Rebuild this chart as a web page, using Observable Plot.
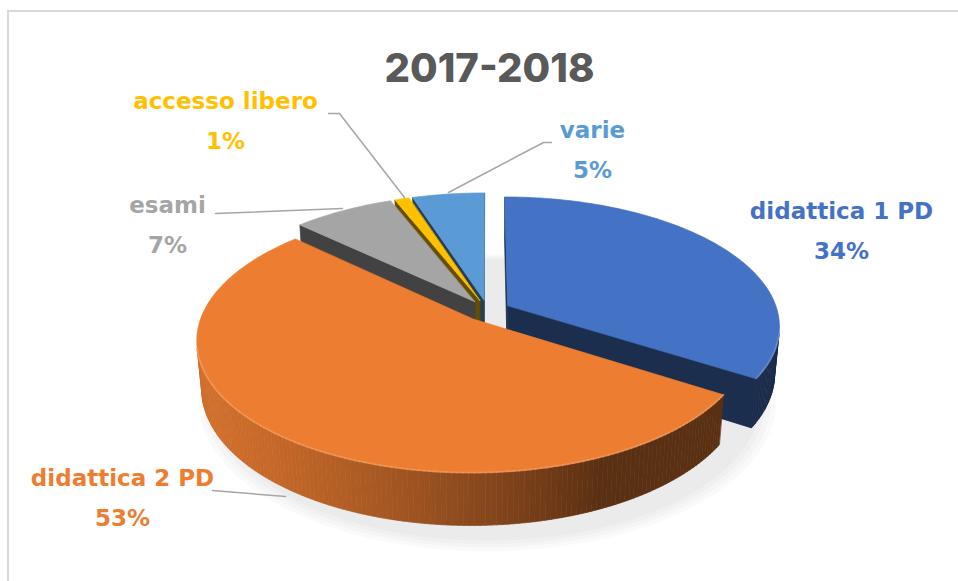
<!DOCTYPE html>
<html><head><meta charset="utf-8">
<script src="https://cdn.jsdelivr.net/npm/d3@7"></script>
<script src="https://cdn.jsdelivr.net/npm/@observablehq/plot@0.6"></script>
<style>
body{margin:0;background:#fff;overflow:hidden}
#wrap{position:relative;width:958px;height:581px;overflow:hidden}
#frame{position:absolute;left:7px;top:10px;width:990px;height:620px;border:2px solid #d9d9d9;box-sizing:border-box;pointer-events:none}
</style></head><body>
<div id="wrap"><div id="chart"></div><div id="frame"></div></div>
<script>
// ---- data ----
const title = "2017-2018";
const categories = ["didattica 1 PD", "didattica 2 PD", "esami", "accesso libero", "varie"];
const values = [34, 53, 7, 1, 5];
const percentLabels = ["34%", "53%", "7%", "1%", "5%"];

// ---- styles / layout ----
const topColors = ["#4472C4", "#ED7D31", "#A5A5A5", "#FFC000", "#5B9BD5"];
const explode = [0.085, 0.085, 0.085, 0.085, 0.085];
const cam = {cx: 487, cy: 310, F: 1533, D: 5.68, phi: 28 * Math.PI / 180, h: 0.2};
const labelPos = [[841, 218], [122, 485], [167, 212], [225, 108], [592, 137]];
const pctGap = 40;
const leaders = [
  [[328, 113], [339, 113], [404, 197]],
  [[215, 213], [342, 208]],
  [[448, 192], [543, 142], [551, 142]],
  [[212, 490], [285, 496]]
];
const labelFont = "'DejaVu Sans', sans-serif";
const titleFont = "Inter, sans-serif";

// ---- 3D projection ----
const cphi = Math.cos(cam.phi), sphi = Math.sin(cam.phi);
const camPos = [0, -cam.D * cphi, cam.D * sphi];
function proj([x, y, z]) {
  const Y = y * sphi + z * cphi;
  const Zc = cam.D + y * cphi - z * sphi;
  return [cam.cx + cam.F * x / Zc, cam.cy - cam.F * Y / Zc, Zc];
}
function visible(n, p) {
  return n[0] * (camPos[0] - p[0]) + n[1] * (camPos[1] - p[1]) + n[2] * (camPos[2] - p[2]) > 0;
}
function shade(hex, f) {
  const c = d3.rgb(hex);
  return d3.rgb(c.r * f, c.g * f, c.b * f).formatHex();
}
function lighten(hex, f) {
  return d3.interpolateRgb(hex, "#ffffff")(f);
}
const Ln = Math.hypot(1, 0.45);
const L = [-1 / Ln, -0.45 / Ln];

const total = d3.sum(values);
const sides = [], tops = [], rims = [];
let acc = 0;
const step = Math.PI / 180;
values.forEach((v, i) => {
  const a0 = acc / total * 2 * Math.PI;
  acc += v;
  const a1 = acc / total * 2 * Math.PI;
  const mid = (a0 + a1) / 2;
  const o = [explode[i] * Math.sin(mid), explode[i] * Math.cos(mid)];
  const arc = (t, z) => [o[0] + Math.sin(t), o[1] + Math.cos(t), z];
  const n = Math.max(2, Math.ceil((a1 - a0) / step));
  const ts = d3.range(n + 1).map(k => a0 + (a1 - a0) * k / n);
  const h = cam.h;
  tops.push({pts: [[o[0], o[1], 0], ...ts.map(t => arc(t, 0))], color: topColors[i]});
  for (let k = 0; k < n; k++) {
    const t0 = ts[k], t1 = ts[k + 1], tm = (t0 + t1) / 2;
    const nrm = [Math.sin(tm), Math.cos(tm), 0];
    const pm = arc(tm, -h / 2);
    if (!visible(nrm, pm)) continue;
    const lam = Math.max(0, nrm[0] * L[0] + nrm[1] * L[1]);
    sides.push({pts: [arc(t0, 0), arc(t1, 0), arc(t1, -h), arc(t0, -h)], color: shade(topColors[i], 0.38 + 0.5 * lam), depth: proj(pm)[2]});
    rims.push({pts: [arc(t0, 0), arc(t1, 0)], color: lighten(topColors[i], 0.25), seg: i * 1000 + k});
  }
  const radial = (t, nrm) => {
    const pm = [o[0] + Math.sin(t) / 2, o[1] + Math.cos(t) / 2, -h / 2];
    if (!visible(nrm, pm)) return;
    sides.push({pts: [[o[0], o[1], 0], arc(t, 0), arc(t, -h), [o[0], o[1], -h]], color: shade(topColors[i], 0.4), depth: proj(pm)[2]});
  };
  radial(a0, [-Math.cos(a0), Math.sin(a0), 0]);
  radial(a1, [Math.cos(a1), -Math.sin(a1), 0]);
});
sides.sort((a, b) => b.depth - a.depth);
const faces = [...sides, ...tops];
const polyRows = faces.flatMap((f, k) => f.pts.map(p => {
  const [x, y] = proj(p);
  return {id: k, x, y, color: f.color};
}));
const rimRows = rims.flatMap(r => r.pts.map(p => {
  const [x, y] = proj(p);
  return {id: r.seg, x, y, color: r.color};
}));
// faint soft shadow below the front of the pie
const shadowRows = d3.range(4).flatMap(k => d3.range(0, 360, 3).map(deg => {
  const t = deg * Math.PI / 180, r = 1.0 + 0.018 * k;
  const [x, y] = proj([r * Math.sin(t), -0.12 + r * Math.cos(t), -cam.h - 0.02]);
  return {id: k, x, y};
}));

const nameRows = categories.map((c, i) => ({text: c, x: labelPos[i][0], y: labelPos[i][1], color: topColors[i]}));
const pctRows = percentLabels.map((c, i) => ({text: c, x: labelPos[i][0], y: labelPos[i][1] + pctGap, color: topColors[i]}));
const leaderRows = leaders.flatMap((l, k) => l.map(([x, y]) => ({id: k, x, y})));

const chart = Plot.plot({
  width: 958, height: 581,
  marginTop: 0, marginRight: 0, marginBottom: 0, marginLeft: 0,
  x: {domain: [0, 958], range: [0, 958], axis: null},
  y: {domain: [0, 581], range: [0, 581], axis: null},
  color: {type: "identity"},
  style: {background: "transparent"},
  marks: [
    Plot.line(shadowRows, {x: "x", y: "y", z: "id", fill: "#000", fillOpacity: 0.018, stroke: "none", curve: "linear-closed"}),
    Plot.line(polyRows, {x: "x", y: "y", z: "id", fill: "color", stroke: "color", strokeWidth: 0.7, curve: "linear-closed"}),
    Plot.line(rimRows, {x: "x", y: "y", z: "id", stroke: "color", strokeWidth: 1.8, strokeOpacity: 0.6}),
    Plot.line(leaderRows, {x: "x", y: "y", z: "id", stroke: "#a6a6a6", strokeWidth: 1.5}),
    Plot.text([title], {x: () => 489, y: () => 81, text: d => d, fill: "#595959", fontSize: 40, fontWeight: 800, fontFamily: titleFont, lineAnchor: "bottom"}),
    Plot.text(nameRows, {x: "x", y: "y", text: "text", fill: "color", fontSize: 23, fontWeight: "bold", fontFamily: labelFont, lineAnchor: "bottom"}),
    Plot.text(pctRows, {x: "x", y: "y", text: "text", fill: "color", fontSize: 23, fontWeight: "bold", fontFamily: labelFont, lineAnchor: "bottom"})
  ]
});
document.getElementById("chart").appendChild(chart);
</script>
</body></html>
